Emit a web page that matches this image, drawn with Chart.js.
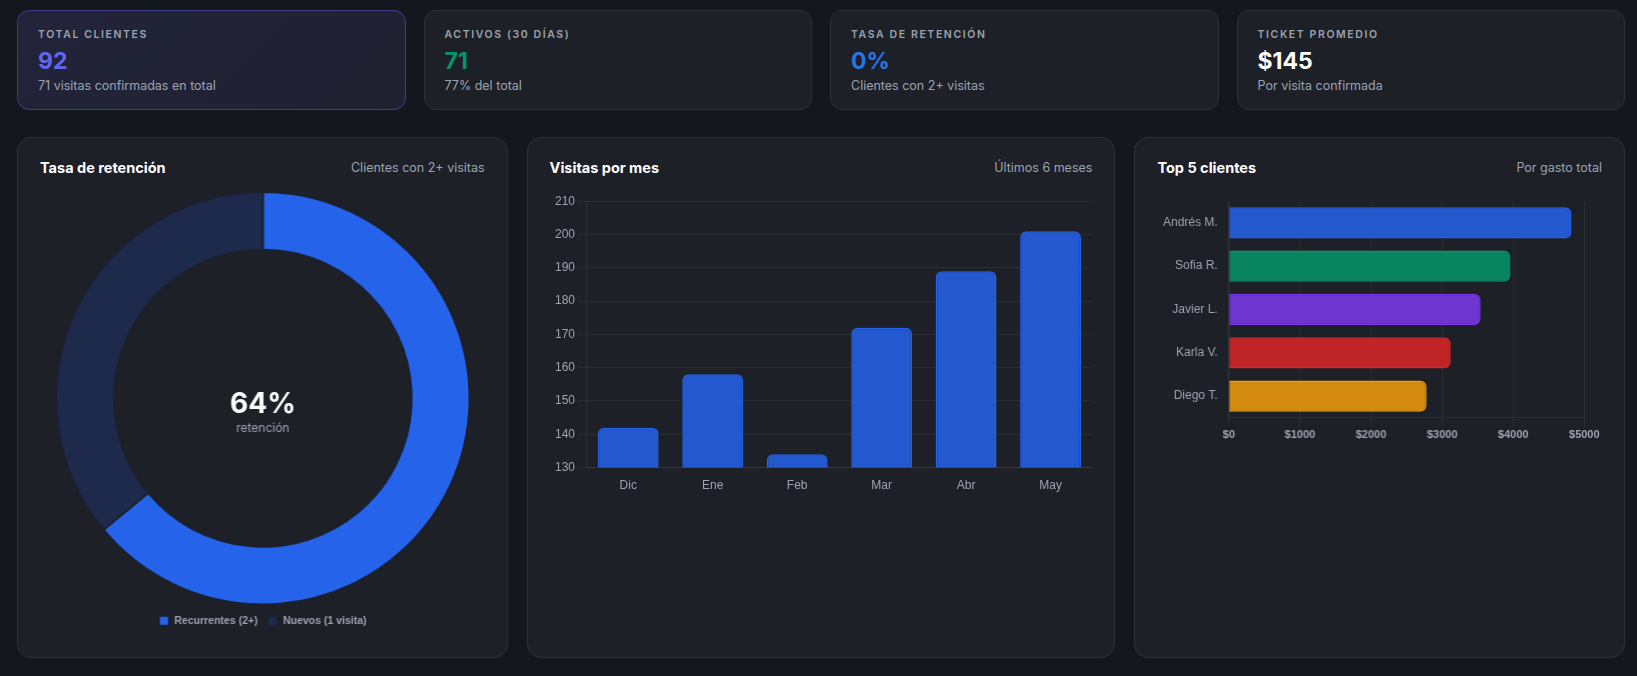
<!DOCTYPE html>
<html lang="es">
<head>
<meta charset="utf-8">
<title>Clientes</title>
<script src="https://cdn.jsdelivr.net/npm/chart.js@4.4.1/dist/chart.umd.min.js"></script>
<style>
  * { box-sizing: border-box; }
  body { margin: 0; background: #15171e; font-family: Inter, "Noto Sans", sans-serif; color: #e5e7eb; width: 1637px; height: 676px; overflow: hidden; }
  .wrap { padding: 10px 12px 0 17px; }
  .kpis { display: grid; grid-template-columns: repeat(4, 1fr); gap: 18px; }
  .kpi { height: 100px; background: #1e2028; border: 1px solid #2d303b; border-radius: 12px; padding: 17px 20px 0 20px; }
  .kpi.hl { background: linear-gradient(135deg, #23243a, #1f2130); border-color: #3f3d85; }
  .kpi .lbl { font-size: 10.5px; font-weight: 600; letter-spacing: 1.6px; color: #9ca3af; line-height: 13px; }
  .kpi .val { font-size: 23px; font-weight: 700; line-height: 28px; margin-top: 6px; }
  .kpi .sub { font-size: 12.5px; color: #9ca3af; line-height: 16px; margin-top: 3px; }
  .panels { display: grid; grid-template-columns: 1fr 1.2fr 1fr; gap: 19px; margin-top: 27px; }
  .panel { height: 521px; background: #1e2028; border: 1px solid #2d303b; border-radius: 14px; padding: 20px 22px; }
  .head { display: flex; justify-content: space-between; align-items: center; height: 18px; }
  .head h3 { margin: 0; font-size: 14.5px; font-weight: 700; color: #fff; }
  .head span { font-size: 12.5px; color: #9ca3af; }
  .box { position: relative; margin-top: 15px; }
</style>
</head>
<body>
<div class="wrap">
  <div class="kpis">
    <div class="kpi hl">
      <div class="lbl">TOTAL CLIENTES</div>
      <div class="val" style="color:#6366f1">92</div>
      <div class="sub">71 visitas confirmadas en total</div>
    </div>
    <div class="kpi">
      <div class="lbl">ACTIVOS (30 DÍAS)</div>
      <div class="val" style="color:#059669">71</div>
      <div class="sub">77% del total</div>
    </div>
    <div class="kpi">
      <div class="lbl">TASA DE RETENCIÓN</div>
      <div class="val" style="color:#2577e8">0%</div>
      <div class="sub">Clientes con 2+ visitas</div>
    </div>
    <div class="kpi">
      <div class="lbl">TICKET PROMEDIO</div>
      <div class="val" style="color:#fff">$145</div>
      <div class="sub">Por visita confirmada</div>
    </div>
  </div>

  <div class="panels">
    <div class="panel">
      <div class="head"><h3>Tasa de retención</h3><span>Clientes con 2+ visitas</span></div>
      <div class="box" style="height:445px"><canvas id="retChart"></canvas></div>
    </div>
    <div class="panel">
      <div class="head"><h3>Visitas por mes</h3><span>Últimos 6 meses</span></div>
      <div class="box" style="height:305px"><canvas id="visitChart"></canvas></div>
    </div>
    <div class="panel">
      <div class="head"><h3>Top 5 clientes</h3><span>Por gasto total</span></div>
      <div class="box" style="height:254px"><canvas id="topChart"></canvas></div>
    </div>
  </div>
</div>

<script>
/* data */
const retLabels = ['Recurrentes (2+)', 'Nuevos (1 visita)'];
const retValues = [64, 36];

const months = ['Dic', 'Ene', 'Feb', 'Mar', 'Abr', 'May'];
const visits = [142, 158, 134, 172, 189, 201];

const clients = ['Andrés M.', 'Sofia R.', 'Javier L.', 'Karla V.', 'Diego T.'];
const spend = [4820, 3960, 3540, 3120, 2780];

Chart.defaults.font.family = "Arial, 'Liberation Sans', sans-serif";
Chart.defaults.color = '#9ca3af';

const gridColor = 'rgba(255,255,255,0.06)';

// text in the middle of the doughnut
const centerText = {
  id: 'centerText',
  afterDraw(chart) {
    const arc = chart.getDatasetMeta(0).data[0];
    if (!arc) return;
    const total = retValues.reduce((a, b) => a + b, 0);
    const pct = Math.round(retValues[0] / total * 100) + '%';
    const ctx = chart.ctx;
    ctx.save();
    ctx.textAlign = 'center';
    ctx.textBaseline = 'middle';
    ctx.fillStyle = '#ffffff';
    ctx.font = '700 28px Inter';
    ctx.fillText(pct, arc.x, arc.y + 6);
    ctx.fillStyle = '#9ca3af';
    ctx.font = '12px Inter';
    ctx.fillText('retención', arc.x, arc.y + 30);
    ctx.restore();
  }
};

new Chart(document.getElementById('retChart'), {
  type: 'doughnut',
  data: {
    labels: retLabels,
    datasets: [{
      data: retValues,
      backgroundColor: ['#2563eb', '#1e2a4b'],
      borderColor: '#1c2130',
      borderWidth: 2
    }]
  },
  options: {
    responsive: true,
    maintainAspectRatio: false,
    animation: false,
    cutout: '72%',
    plugins: {
      legend: {
        position: 'bottom',
        labels: { color: '#9ca3af', boxWidth: 10, boxHeight: 10, padding: 10, font: { size: 10.5, weight: 'bold' } }
      }
    }
  },
  plugins: [centerText]
});

new Chart(document.getElementById('visitChart'), {
  type: 'bar',
  data: {
    labels: months,
    datasets: [{
      label: 'Visitas',
      data: visits,
      backgroundColor: 'rgba(37,99,235,0.85)',
      borderColor: '#2563eb',
      borderWidth: 1.5,
      borderRadius: 6
    }]
  },
  options: {
    responsive: true,
    maintainAspectRatio: false,
    animation: false,
    layout: { padding: { left: 2 } },
    plugins: { legend: { display: false } },
    scales: {
      x: {
        grid: { display: false },
        border: { color: gridColor },
        ticks: { color: '#9ca3af', font: { size: 12 } }
      },
      y: {
        min: 130,
        max: 210,
        ticks: { stepSize: 10, color: '#9ca3af', font: { size: 12 } },
        grid: { color: gridColor },
        border: { color: gridColor }
      }
    }
  }
});

new Chart(document.getElementById('topChart'), {
  type: 'bar',
  data: {
    labels: clients,
    datasets: [{
      label: 'Gasto',
      data: spend,
      backgroundColor: ['rgba(37,99,235,0.85)', 'rgba(5,150,105,0.85)', 'rgba(124,58,237,0.85)', 'rgba(220,38,38,0.85)', 'rgba(245,158,11,0.85)'],
      borderColor: ['#2563eb', '#059669', '#7c3aed', '#dc2626', '#f59e0b'],
      borderWidth: 1.5,
      borderRadius: 6
    }]
  },
  options: {
    indexAxis: 'y',
    responsive: true,
    maintainAspectRatio: false,
    animation: false,
    layout: { padding: { top: 10, right: 0, left: 3 } },
    plugins: { legend: { display: false } },
    scales: {
      x: {
        min: 0,
        max: 5000,
        ticks: { stepSize: 1000, color: '#9ca3af', font: { size: 11, weight: 'bold' }, callback: v => '$' + v },
        grid: { color: gridColor },
        border: { color: gridColor }
      },
      y: {
        grid: { display: false },
        border: { color: gridColor },
        ticks: { color: '#9ca3af', font: { size: 12 } }
      }
    }
  }
});
</script>
</body>
</html>
